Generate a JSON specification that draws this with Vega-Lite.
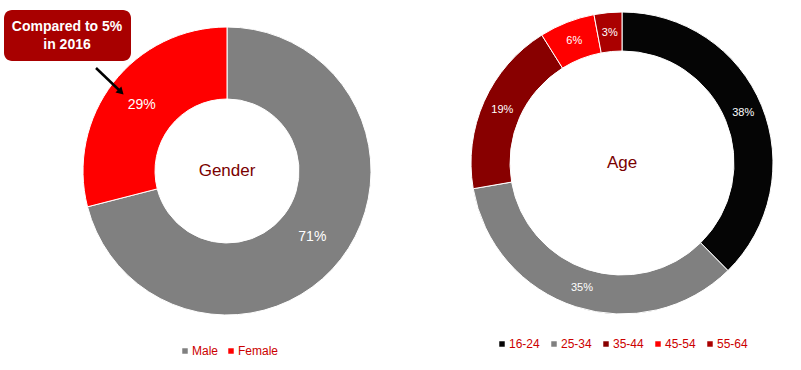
{
  "$schema": "https://vega.github.io/schema/vega-lite/v6.json",
  "padding": 0,
  "background": "white",
  "spacing": 0,
  "resolve": {"scale": {"color": "independent", "theta": "independent"}, "legend": {"color": "independent"}},
  "config": {
    "view": {"stroke": null},
    "font": "Liberation Sans",
    "legend": {
      "symbolType": "square",
      "symbolSize": 30,
      "symbolStrokeWidth": 0,
      "labelColor": "#CC0000",
      "labelFontSize": 12,
      "labelFont": "Liberation Sans",
      "columnPadding": 6,
      "labelOffset": 1,
      "padding": 0
    }
  },
  "datasets": {
    "gender": [
      {"gender": "Male", "pct": 71, "ord": 1, "label": "71%"},
      {"gender": "Female", "pct": 29, "ord": 2, "label": "29%"}
    ],
    "age": [
      {"age": "16-24", "pct": 38, "ord": 1, "label": "38%"},
      {"age": "25-34", "pct": 35, "ord": 2, "label": "35%"},
      {"age": "35-44", "pct": 19, "ord": 3, "label": "19%"},
      {"age": "45-54", "pct": 6, "ord": 4, "label": "6%"},
      {"age": "55-64", "pct": 3, "ord": 5, "label": "3%"}
    ],
    "box": [{"x": 4, "x2": 131, "y": 10, "y2": 61}],
    "boxtext": [
      {"x": 67, "y": 27, "t": "Compared to 5%"},
      {"x": 67, "y": 45, "t": "in 2016"}
    ],
    "arrow": [{"x": 96, "y": 68, "x2": 119, "y2": 90}],
    "head": [{"x": 121, "y": 92}]
  },
  "hconcat": [
    {
      "width": 454,
      "height": 342,
      "layer": [
        {
          "data": {"name": "gender"},
          "mark": {"type": "arc", "outerRadius": 144, "innerRadius": 72, "stroke": "white", "strokeWidth": 1},
          "encoding": {
            "theta": {"field": "pct", "type": "quantitative", "stack": true},
            "order": {"field": "ord"},
            "color": {
              "field": "gender", "type": "nominal",
              "scale": {"domain": ["Male", "Female"], "range": ["#808080", "#FF0000"]},
              "legend": {"orient": "none", "legendX": 179, "legendY": 345, "direction": "horizontal", "title": null}
            }
          }
        },
        {
          "data": {"name": "gender"},
          "mark": {"type": "text", "radius": 108, "fill": "white", "fontSize": 14},
          "encoding": {
            "theta": {"field": "pct", "type": "quantitative", "stack": true},
            "order": {"field": "ord"},
            "detail": {"field": "gender"},
            "text": {"field": "label"}
          }
        },
        {
          "data": {"values": [{"t": "Gender"}]},
          "mark": {"type": "text", "fontSize": 17, "fill": "#7A0000", "align": "center", "baseline": "middle"},
          "encoding": {"text": {"field": "t"}}
        },
        {
          "data": {"name": "box"},
          "mark": {"type": "rect", "cornerRadius": 8, "fill": "#A80000"},
          "encoding": {
            "x": {"field": "x", "type": "quantitative", "scale": {"domain": [0, 454], "nice": false, "zero": false}, "axis": null},
            "x2": {"field": "x2"},
            "y": {"field": "y", "type": "quantitative", "scale": {"domain": [0, 342], "nice": false, "zero": false, "reverse": true}, "axis": null},
            "y2": {"field": "y2"}
          }
        },
        {
          "data": {"name": "boxtext"},
          "mark": {"type": "text", "fontSize": 14, "fontWeight": "bold", "fill": "white", "align": "center", "baseline": "middle"},
          "encoding": {
            "x": {"field": "x", "type": "quantitative", "scale": {"domain": [0, 454], "nice": false, "zero": false}, "axis": null},
            "y": {"field": "y", "type": "quantitative", "scale": {"domain": [0, 342], "nice": false, "zero": false, "reverse": true}, "axis": null},
            "text": {"field": "t"}
          }
        },
        {
          "data": {"name": "arrow"},
          "mark": {"type": "rule", "stroke": "black", "strokeWidth": 2.5},
          "encoding": {
            "x": {"field": "x", "type": "quantitative", "scale": {"domain": [0, 454], "nice": false, "zero": false}, "axis": null},
            "x2": {"field": "x2"},
            "y": {"field": "y", "type": "quantitative", "scale": {"domain": [0, 342], "nice": false, "zero": false, "reverse": true}, "axis": null},
            "y2": {"field": "y2"}
          }
        },
        {
          "data": {"name": "head"},
          "mark": {"type": "point", "shape": "triangle-up", "angle": 135, "filled": true, "fill": "black", "opacity": 1, "size": 70},
          "encoding": {
            "x": {"field": "x", "type": "quantitative", "scale": {"domain": [0, 454], "nice": false, "zero": false}, "axis": null},
            "y": {"field": "y", "type": "quantitative", "scale": {"domain": [0, 342], "nice": false, "zero": false, "reverse": true}, "axis": null}
          }
        }
      ]
    },
    {
      "width": 336,
      "height": 326,
      "layer": [
        {
          "data": {"name": "age"},
          "mark": {"type": "arc", "outerRadius": 151, "innerRadius": 112, "stroke": "white", "strokeWidth": 1},
          "encoding": {
            "theta": {"field": "pct", "type": "quantitative", "stack": true},
            "order": {"field": "ord"},
            "color": {
              "field": "age", "type": "nominal",
              "scale": {"domain": ["16-24", "25-34", "35-44", "45-54", "55-64"], "range": ["#050505", "#808080", "#880000", "#FF0000", "#AA0000"]},
              "legend": {"orient": "none", "legendX": 42, "legendY": 338, "direction": "horizontal", "title": null, "columnPadding": 8}
            }
          }
        },
        {
          "data": {"name": "age"},
          "mark": {"type": "text", "radius": 131, "fill": "white", "fontSize": 11},
          "encoding": {
            "theta": {"field": "pct", "type": "quantitative", "stack": true},
            "order": {"field": "ord"},
            "detail": {"field": "age"},
            "text": {"field": "label"}
          }
        },
        {
          "data": {"values": [{"t": "Age"}]},
          "mark": {"type": "text", "fontSize": 17, "fill": "#7A0000", "align": "center", "baseline": "middle"},
          "encoding": {"text": {"field": "t"}}
        }
      ]
    }
  ]
}
